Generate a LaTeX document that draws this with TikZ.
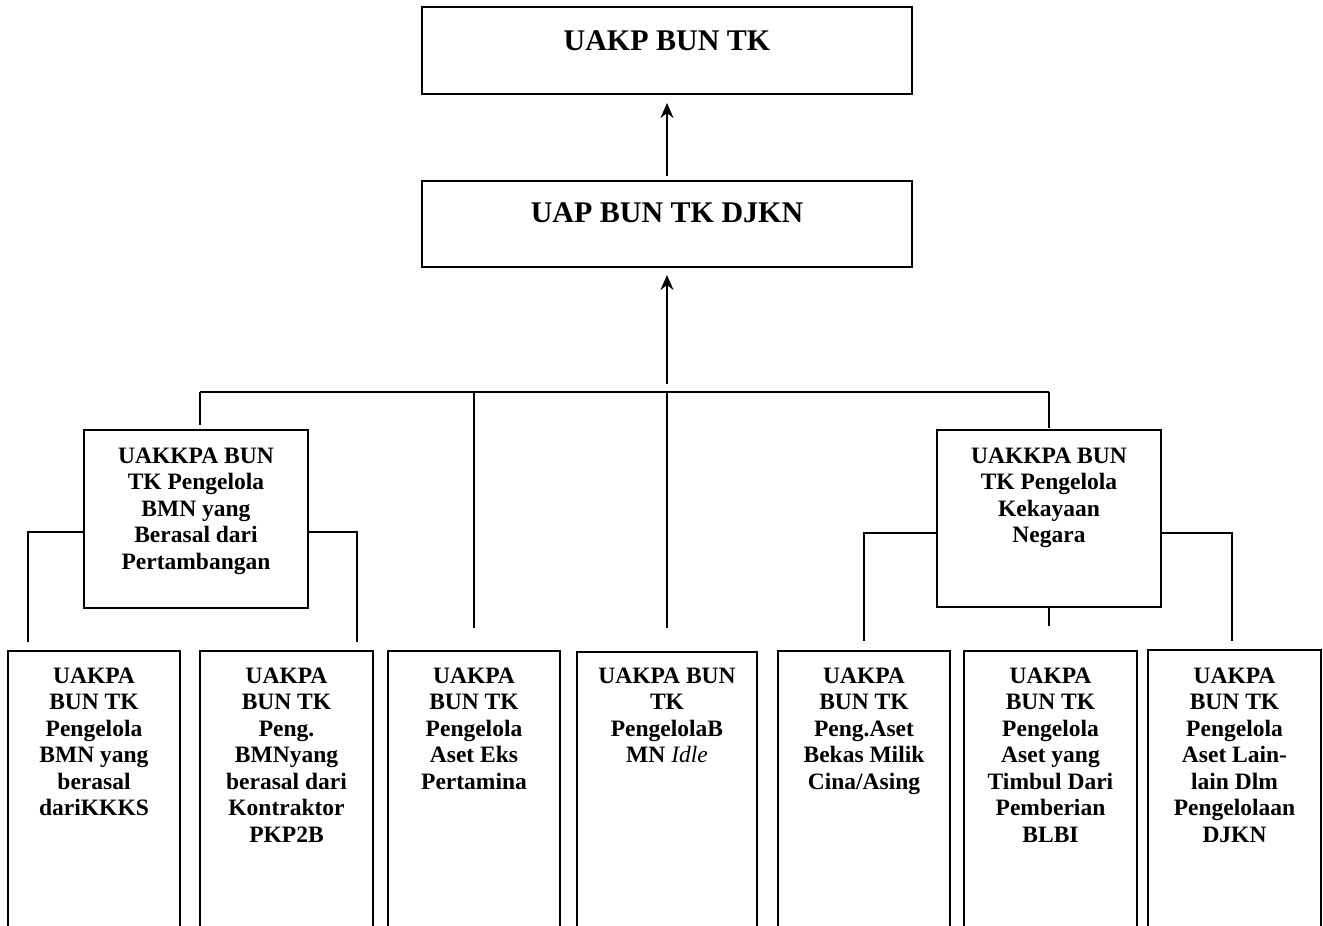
\documentclass[tikz,border=0pt]{standalone}
\usepackage{fontspec}
\setmainfont{Liberation Serif}
\usetikzlibrary{arrows.meta,calc}
\newcommand\bxtext[2]{\parbox[t]{#1}{\centering #2}}
\begin{document}
\begin{tikzpicture}[x=1pt,y=-1pt,
  boxframe/.style={draw=black, line width=2.7pt, rectangle, inner sep=0pt, outer sep=0pt},
  conn/.style={draw=black, line width=2.2pt},
  arr/.style={conn, -{Stealth[length=15pt,width=13pt,inset=5pt]}},
  bigtxt/.style={font=\fontsize{30pt}{34pt}\selectfont\bfseries, inner sep=0pt, anchor=base},
  smalltxt/.style={font=\fontsize{23.5pt}{26.5pt}\selectfont\bfseries, inner sep=0pt, anchor=base}]
\clip (0,0) rectangle (1323,926);
\fill[white] (0,0) rectangle (1323,926);

% top level boxes
\node[boxframe, minimum width=490pt, minimum height=87pt, anchor=north west] (top) at (422,7) {};
\node[bigtxt] (toptxt) at ($(top.north)+(0,43)$) {UAKP BUN TK};
\node[boxframe, minimum width=490pt, minimum height=86pt, anchor=north west] (uap) at (422,181) {};
\node[bigtxt] (uaptxt) at ($(uap.north)+(0,41)$) {UAP BUN TK DJKN};

% group boxes
\node[boxframe, minimum width=224pt, minimum height=178pt, anchor=north west] (gL) at (84,430) {};
\node[smalltxt] (gLtxt) at ($(gL.north)+(0,33)$) {\bxtext{215pt}{UAKKPA BUN\\TK Pengelola\\BMN yang\\Berasal dari\\Pertambangan}};
\node[boxframe, minimum width=224pt, minimum height=177pt, anchor=north west] (gR) at (937,430) {};
\node[smalltxt] (gRtxt) at ($(gR.north)+(0,33)$) {\bxtext{215pt}{UAKKPA BUN\\TK Pengelola\\Kekayaan\\Negara}};

% bottom boxes
\node[boxframe, minimum width=172pt, minimum height=330pt, anchor=north west] (b1) at (8,651) {};
\node[boxframe, minimum width=173pt, minimum height=330pt, anchor=north west] (b2) at (200,651) {};
\node[boxframe, minimum width=172pt, minimum height=330pt, anchor=north west] (b3) at (388,651) {};
\node[boxframe, minimum width=180pt, minimum height=330pt, anchor=north west] (b4) at (577,652) {};
\node[boxframe, minimum width=172pt, minimum height=330pt, anchor=north west] (b5) at (778,651) {};
\node[boxframe, minimum width=173pt, minimum height=330pt, anchor=north west] (b6) at (964,651) {};
\node[boxframe, minimum width=173pt, minimum height=330pt, anchor=north west] (b7) at (1148,650) {};

\node[smalltxt] (t1) at ($(b1.north)+(0,32)$) {\bxtext{168pt}{UAKPA\\BUN TK\\Pengelola\\BMN yang\\berasal\\dariKKKS}};
\node[smalltxt] (t2) at ($(b2.north)+(0,32)$) {\bxtext{168pt}{UAKPA\\BUN TK\\Peng.\\BMNyang\\berasal dari\\Kontraktor\\PKP2B}};
\node[smalltxt] (t3) at ($(b3.north)+(0,32)$) {\bxtext{168pt}{UAKPA\\BUN TK\\Pengelola\\Aset Eks\\Pertamina}};
\node[smalltxt] (t4) at ($(b4.north)+(0,31)$) {\bxtext{176pt}{UAKPA BUN\\TK\\PengelolaB\\MN {\mdseries\itshape Idle}}};
\node[smalltxt] (t5) at ($(b5.north)+(0,32)$) {\bxtext{168pt}{UAKPA\\BUN TK\\Peng.Aset\\Bekas Milik\\Cina/Asing}};
\node[smalltxt] (t6) at ($(b6.north)+(0,32)$) {\bxtext{168pt}{UAKPA\\BUN TK\\Pengelola\\Aset yang\\Timbul Dari\\Pemberian\\BLBI}};
\node[smalltxt] (t7) at ($(b7.north)+(0,33)$) {\bxtext{168pt}{UAKPA\\BUN TK\\Pengelola\\Aset Lain-\\lain Dlm\\Pengelolaan\\DJKN}};

% arrows
\coordinate (busL) at (200,392);
\coordinate (busR) at (1049,392);
\draw[arr] ($(uap.north)+(0,-5)$) -- ($(top.south)+(0,9)$);
\draw[arr] ($(uap.south |- busL)+(0,-8)$) -- ($(uap.south)+(0,8)$);

% bus
\draw[conn] (busL) -- (busR);
\draw[conn] (busL) -- ($(busL |- gL.north)+(0,-5)$);
\draw[conn] (busR) -- ($(busR |- gR.north)+(0,-2)$);
\draw[conn] (busL -| b3.north) -- ($(b3.north)+(0,-23)$);
\draw[conn] (busL -| b4.north) -- ($(b4.north)+(0,-24)$);

% left group branches
\coordinate (gLl) at (28,532);
\coordinate (gLr) at (357,532);
\draw[conn] (gL.west |- gLl) -- (gLl) -- ($(gLl |- b1.north)+(0,-9)$);
\draw[conn] (gL.east |- gLr) -- (gLr) -- ($(gLr |- b2.north)+(0,-9)$);

% right group branches
\coordinate (gRl) at (864,533);
\coordinate (gRr) at (1232,533);
\draw[conn] (gR.west |- gRl) -- (gRl) -- ($(gRl |- b5.north)+(0,-10)$);
\draw[conn] (gR.east |- gRr) -- (gRr) -- ($(gRr |- b7.north)+(0,-9)$);
\draw[conn] (gR.south) -- ($(gR.south)+(0,19)$);
\end{tikzpicture}
\end{document}
